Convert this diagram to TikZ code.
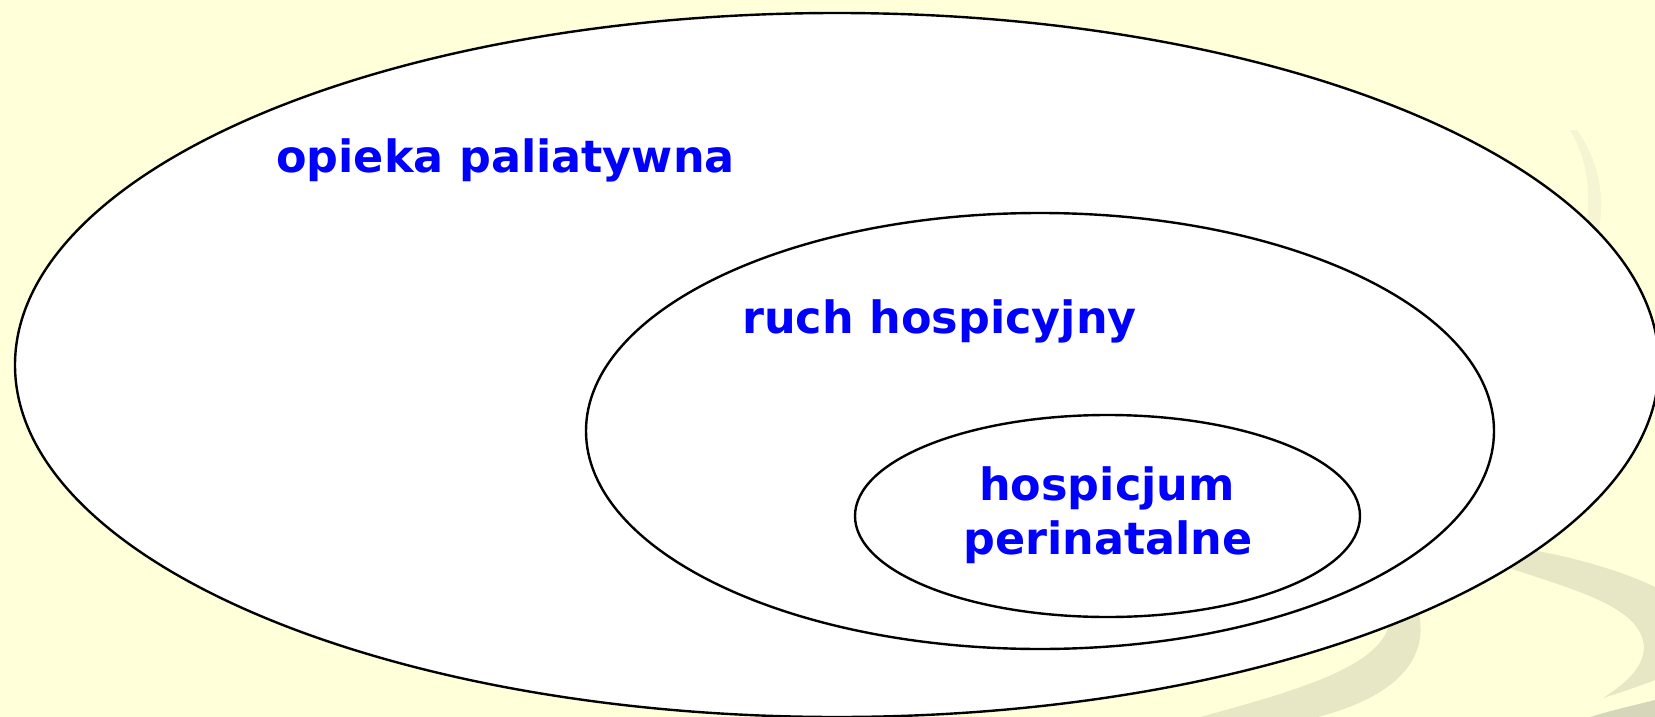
\documentclass[tikz,border=0pt]{standalone}
\usepackage{fontspec}
\newfontfamily\lblfont{DejaVu Sans}
\usetikzlibrary{shapes.geometric}

\definecolor{paper}{RGB}{255,255,217}
\definecolor{swirl}{RGB}{231,231,198}
\definecolor{swirldark}{RGB}{214,214,186}
\definecolor{swirlfaint}{RGB}{245,245,212}
\definecolor{lblblue}{RGB}{0,0,255}

\tikzset{
  ring/.style={ellipse, draw=black, line width=2.4pt, fill=white, inner sep=0pt},
  lbl/.style={inner sep=0pt, text=lblblue, font=\lblfont\bfseries\fontsize{44.5}{54}\selectfont}
}

\begin{document}
\begin{tikzpicture}[x=1pt,y=-1pt]
  % page and background
  \fill[paper] (0,0) rectangle (1655,717);
  \useasboundingbox (0,0) rectangle (1655,717);

  % decorative swirls behind the rings
  \fill[swirlfaint] (1570,130) -- (1577,130)
      .. controls (1598,160) and (1606,195) .. (1598,235) -- (1585,235)
      .. controls (1592,195) and (1588,160) .. (1570,130) -- cycle;
  \fill[swirl] (1385,600) -- (1415,600)
      .. controls (1430,640) and (1420,690) .. (1318,717) -- (1200,717)
      .. controls (1300,690) and (1385,665) .. (1390,620) -- cycle;
  \fill[swirl] (1520,548) .. controls (1570,556) and (1620,570) .. (1655,587)
      -- (1655,680) .. controls (1635,688) and (1615,694) .. (1603,698)
      .. controls (1640,675) and (1655,650) .. (1635,625)
      .. controls (1615,600) and (1560,585) .. (1500,565) -- cycle;
  \fill[swirldark] (1590,717) .. controls (1620,708) and (1640,704) .. (1655,700)
      -- (1655,717) -- cycle;

  % nested rings
  \node[ring, minimum width=1644pt, minimum height=704pt] (outer) at (837,365) {};
  \node[ring, minimum width=908pt, minimum height=436pt] (middle) at (1040,431) {};
  \node[ring, minimum width=505pt, minimum height=202pt] (inner) at (1107.5,516) {};

  % labels
  \node[lbl, anchor=base] (tpal) at (505.5,172) {opieka paliatywna};
  \node[lbl, anchor=base] (thos) at (939.5,333) {ruch hospicyjny};
  \node[lbl, anchor=base] (tper1) at (1107,500) {hospicjum};
  \node[lbl, anchor=base] (tper2) at (1108,554) {perinatalne};
\end{tikzpicture}
\end{document}
